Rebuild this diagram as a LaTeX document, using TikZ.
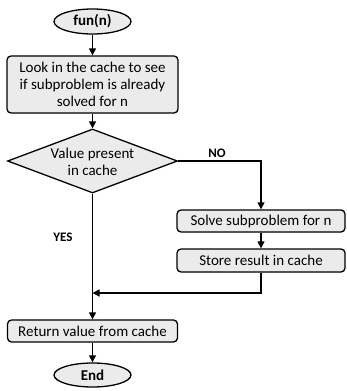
\documentclass[tikz,border=0pt]{standalone}
\usepackage{fontspec}
\setmainfont{Carlito}
\usetikzlibrary{shapes.geometric,arrows.meta}
\definecolor{boxfill}{HTML}{EBEBEB}
\begin{document}
\begin{tikzpicture}[x=1pt,y=-1pt,
  base/.style={draw=black,line width=1.3pt,fill=boxfill,inner sep=0pt,font=\fontsize{15}{17}\selectfont,align=center},
  term/.style={base,ellipse,font=\fontsize{15}{17}\selectfont\bfseries},
  proc/.style={base,rectangle,rounded corners=4pt},
  dec/.style={base,diamond},
  txt/.style={inner sep=0pt,font=\fontsize{15}{17}\selectfont,align=center},
  conn/.style={line width=1.3pt,-{Triangle[length=7pt,width=7pt]}},
  lbl/.style={font=\fontsize{13}{15}\selectfont\bfseries}]
\useasboundingbox (0,0) rectangle (346,391);
\node[term,minimum width=77pt,minimum height=25pt] (fun) at (92.5,21.5) {fun(n)};
\node[proc,minimum width=171pt,minimum height=57pt] (look) at (92.5,84.5) {Look in the cache to see\\if subproblem is already\\solved for n};
\node[dec,minimum width=170pt,minimum height=64pt] (chk) at (92.5,161) {};
\node[txt] (chktxt) at (92.5,162) {Value present\\in cache};
\node[proc,minimum width=168pt,minimum height=22pt] (solve) at (261,221) {Solve subproblem for n};
\node[proc,minimum width=168pt,minimum height=23pt] (store) at (261,260.5) {Store result in cache};
\node[proc,minimum width=170pt,minimum height=22pt] (ret) at (92.5,331) {Return value from cache};
\node[term,minimum width=77pt,minimum height=24pt] (end) at (92.5,375) {End};
\coordinate (join) at (92.5,293);
\draw[conn] (fun) -- (look);
\draw[conn] (look) -- (chk.north);
\draw[conn] (chk.east) -| (solve.north);
\draw[conn] (solve) -- (store);
\draw[conn] (store.south) |- (join);
\draw[conn] (chk.south) -- (ret.north);
\draw[conn] (ret) -- (end);
\node[lbl] (no) at (217,153) {NO};
\node[lbl] (yes) at (63,237) {YES};
\end{tikzpicture}
\end{document}
